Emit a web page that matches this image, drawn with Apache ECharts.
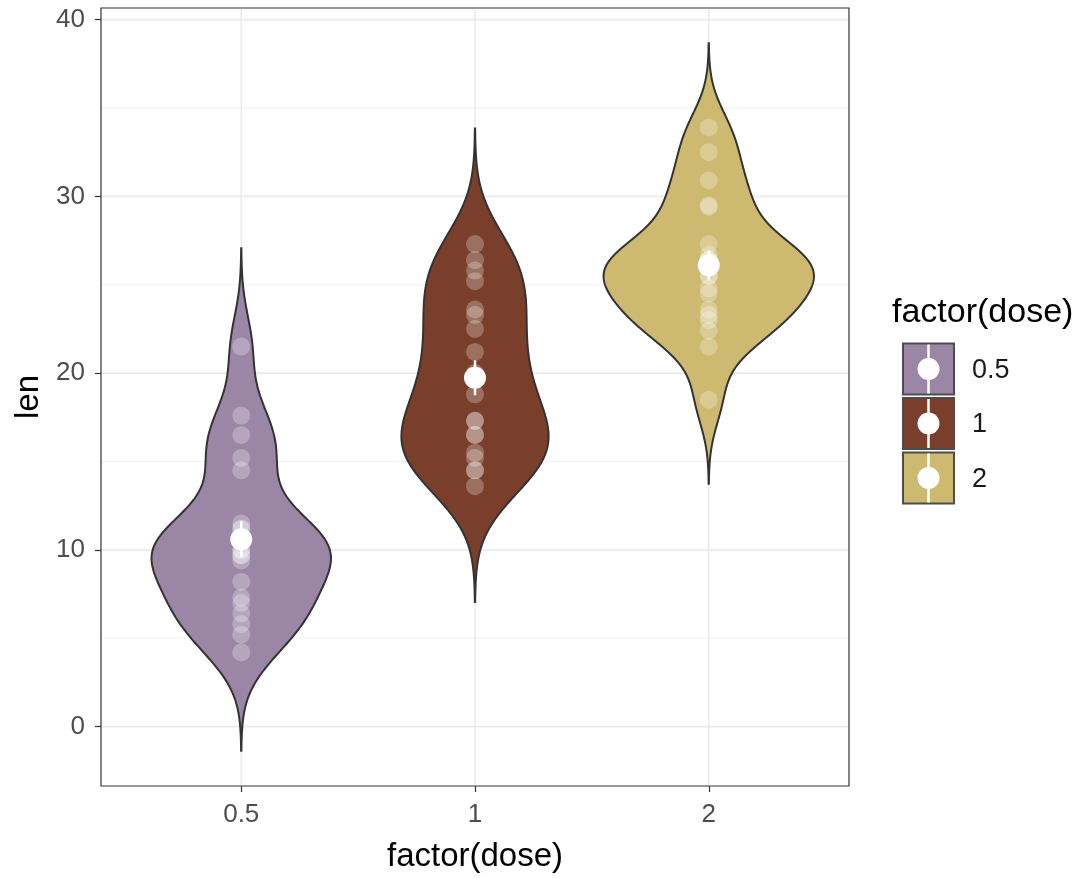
<!DOCTYPE html>
<html>
<head>
<meta charset="utf-8">
<script src="https://cdn.jsdelivr.net/npm/echarts@6/dist/echarts.min.js"></script>
<style>
  html, body { margin: 0; padding: 0; background: #ffffff; }
  #chart { width: 1090px; height: 878px; }
</style>
</head>
<body>
<div id="chart"></div>
<script>
// Tooth length by vitamin C dose (ToothGrowth)
const doseLevels = ['0.5', '1', '2'];
const lenDose05 = [4.2, 11.5, 7.3, 5.8, 6.4, 10, 11.2, 11.2, 5.2, 7, 15.2, 21.5, 17.6, 9.7, 14.5, 10, 8.2, 9.4, 16.5, 9.7];
const lenDose1 = [16.5, 16.5, 15.2, 17.3, 22.5, 17.3, 13.6, 14.5, 18.8, 15.5, 19.7, 23.3, 23.6, 26.4, 20, 25.2, 25.8, 21.2, 14.5, 27.3];
const lenDose2 = [23.6, 18.5, 33.9, 25.5, 26.4, 32.5, 26.7, 21.5, 23.3, 29.5, 25.5, 26.4, 22.4, 24.5, 24.8, 30.9, 26.4, 27.3, 29.4, 23];
const yTickValues = [0, 10, 20, 30, 40];
const yMinorValues = [5, 15, 25, 35];

const groups = [lenDose05, lenDose1, lenDose2];
const fillColors = ['#9b86a6', '#7a3f2b', '#cdb96f'];
const FONT = '"Liberation Sans", Arial, Helvetica, sans-serif';

// ---- statistics: Gaussian KDE with R's bw.nrd0, cut = 3, 512 points ----
function meanOf(a) { return a.reduce((s, v) => s + v, 0) / a.length; }
function sdOf(a) {
  const m = meanOf(a);
  return Math.sqrt(a.reduce((s, v) => s + (v - m) * (v - m), 0) / (a.length - 1));
}
function quantile7(sorted, p) {
  const h = (sorted.length - 1) * p;
  const lo = Math.floor(h);
  const hi = Math.min(lo + 1, sorted.length - 1);
  return sorted[lo] + (h - lo) * (sorted[hi] - sorted[lo]);
}
function bwNrd0(a) {
  const s = a.slice().sort((x, y) => x - y);
  const iqr = quantile7(s, 0.75) - quantile7(s, 0.25);
  const lo = Math.min(sdOf(a), iqr / 1.34);
  return 0.9 * lo * Math.pow(a.length, -0.2);
}
function kde(a) {
  const bw = bwNrd0(a);
  const from = Math.min(...a) - 3 * bw;
  const to = Math.max(...a) + 3 * bw;
  const n = 512, out = [];
  const norm = 1 / (a.length * bw * Math.sqrt(2 * Math.PI));
  for (let i = 0; i < n; i++) {
    const y = from + (to - from) * i / (n - 1);
    let d = 0;
    for (const v of a) { const z = (y - v) / bw; d += Math.exp(-0.5 * z * z); }
    out.push([y, d * norm]);
  }
  return out;
}

const densities = groups.map(kde);
const maxDensity = Math.max(...densities.map(d => Math.max(...d.map(p => p[1]))));
const lowAll = Math.min(...densities.map(d => d[0][0]));
const highAll = Math.max(...densities.map(d => d[d.length - 1][0]));
const pad = (highAll - lowAll) * 0.05;
const yMin = lowAll - pad, yMax = highAll + pad;

const summaries = groups.map((g, i) => {
  const m = meanOf(g);
  const se = sdOf(g) / Math.sqrt(g.length);
  return [i + 1, m, m - se, m + se];
});

const chart = echarts.init(document.getElementById('chart'), null, { renderer: 'canvas' });

// Background grid lines (major and minor)
function renderGridLines(params, api) {
  const cs = params.coordSys;
  const children = [];
  yMinorValues.forEach(v => {
    const y = api.coord([1, v])[1];
    children.push({ type: 'line', shape: { x1: cs.x + 1, y1: y, x2: cs.x + cs.width - 1, y2: y },
      style: { stroke: '#f1f1f1', lineWidth: 1 } });
  });
  yTickValues.forEach(v => {
    const y = api.coord([1, v])[1];
    children.push({ type: 'line', shape: { x1: cs.x + 1, y1: y, x2: cs.x + cs.width - 1, y2: y },
      style: { stroke: '#ebebeb', lineWidth: 1.6 } });
  });
  [1, 2, 3].forEach(v => {
    const x = api.coord([v, 0])[0];
    children.push({ type: 'line', shape: { x1: x, y1: cs.y + 1, x2: x, y2: cs.y + cs.height - 1 },
      style: { stroke: '#ebebeb', lineWidth: 1.6 } });
  });
  return { type: 'group', children };
}

function renderViolin(params, api) {
  const gi = params.dataIndex;
  const dens = densities[gi];
  const xc = gi + 1;
  const right = [], left = [];
  for (const [y, d] of dens) {
    const hw = 0.45 * d / maxDensity;
    right.push(api.coord([xc + hw, y]));
    left.push(api.coord([xc - hw, y]));
  }
  const pts = right.concat(left.reverse());
  return {
    type: 'polygon',
    shape: { points: pts },
    style: { fill: fillColors[gi], stroke: '#333333', lineWidth: 2 }
  };
}

function renderMean(params, api) {
  const x = api.value(0);
  const c = api.coord([x, api.value(1)]);
  const lo = api.coord([x, api.value(2)]);
  const hi = api.coord([x, api.value(3)]);
  return {
    type: 'group',
    children: [
      { type: 'line', shape: { x1: lo[0], y1: lo[1], x2: hi[0], y2: hi[1] },
        style: { stroke: '#ffffff', lineWidth: 2.5 } },
      { type: 'circle', shape: { cx: c[0], cy: c[1], r: 11 }, style: { fill: '#ffffff' } }
    ]
  };
}

const pointSeries = groups.map((g, i) => ({
  type: 'scatter',
  z: 4,
  symbol: 'circle',
  symbolSize: 18,
  silent: true,
  itemStyle: { color: 'rgba(255,255,255,0.32)' },
  data: g.map(v => [i + 1, v])
}));

// Legend keys drawn as graphics
const legendGraphics = [{
  type: 'text', left: 892, top: 296,
  style: { text: 'factor(dose)', font: '34px ' + FONT, fill: '#000000' }
}];
doseLevels.forEach((lab, i) => {
  const top = 342 + i * 54.5;
  legendGraphics.push({
    type: 'group', left: 902, top: top,
    children: [
      { type: 'rect', shape: { x: 0, y: 0, width: 51, height: 51 },
        style: { fill: fillColors[i], stroke: '#4d4d4d', lineWidth: 2 } },
      { type: 'line', shape: { x1: 25.5, y1: 1, x2: 25.5, y2: 50 }, style: { stroke: '#ffffff', lineWidth: 2.5 } },
      { type: 'circle', shape: { cx: 25.5, cy: 25.5, r: 11 }, style: { fill: '#ffffff' } }
    ]
  });
  legendGraphics.push({
    type: 'text', left: 972, top: top + 15,
    style: { text: lab, font: '27px ' + FONT, fill: '#1a1a1a' }
  });
});

const option = {
  backgroundColor: '#ffffff',
  animation: false,
  grid: { left: 101, right: 241, top: 8, bottom: 92, show: true, borderColor: '#333333', borderWidth: 1.2, backgroundColor: 'transparent' },
  xAxis: {
    type: 'value', min: 0.4, max: 3.6, position: 'bottom',
    name: 'factor(dose)', nameLocation: 'middle', nameGap: 54,
    nameTextStyle: { fontFamily: FONT, fontSize: 33, color: '#000000' },
    axisLine: { show: false, onZero: false },
    axisTick: { show: true, customValues: [1, 2, 3], length: 6, lineStyle: { color: '#333333', width: 1.2 } },
    axisLabel: { customValues: [1, 2, 3], formatter: v => doseLevels[Math.round(v) - 1] || '',
      fontFamily: FONT, fontSize: 26, color: '#4d4d4d', margin: 16 },
    splitLine: { show: false }
  },
  yAxis: {
    type: 'value', min: yMin, max: yMax, position: 'left',
    name: 'len', nameLocation: 'middle', nameGap: 54, nameRotate: 90,
    nameTextStyle: { fontFamily: FONT, fontSize: 33, color: '#000000' },
    axisLine: { show: false, onZero: false },
    axisTick: { show: true, customValues: yTickValues, length: 6, lineStyle: { color: '#333333', width: 1.2 } },
    axisLabel: { customValues: yTickValues, fontFamily: FONT, fontSize: 26, color: '#4d4d4d', margin: 16 },
    splitLine: { show: false }
  },
  graphic: legendGraphics,
  series: [
    { type: 'custom', z: 1, silent: true, renderItem: renderGridLines, data: [[1, 20]] },
    { type: 'custom', z: 2, silent: true, renderItem: renderViolin, data: summaries.map(s => [s[0], s[1]]) },
    ...pointSeries,
    { type: 'custom', z: 5, silent: true, renderItem: renderMean, data: summaries }
  ]
};
chart.setOption(option);
</script>
</body>
</html>
